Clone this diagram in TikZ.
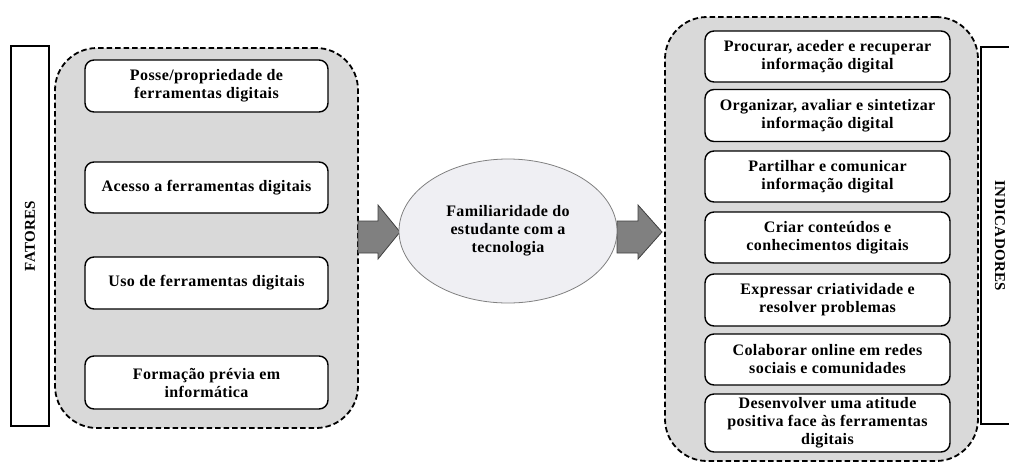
\documentclass[tikz,border=0pt]{standalone}
\usepackage{fontspec}
\setmainfont{Liberation Serif}[LetterSpace=2.5]
\usetikzlibrary{shapes.geometric}
\definecolor{grpfill}{HTML}{D9D9D9}
\definecolor{ellfill}{HTML}{EFEFF3}
\definecolor{arrfill}{HTML}{808080}
\begin{document}
\begin{tikzpicture}[x=1pt,y=-1pt,
  grp/.style={draw=black, line width=1.8pt, dash pattern=on 5.5pt off 3pt, fill=grpfill, rounded corners=42pt, inner sep=0pt},
  item/.style={draw=black, line width=1.4pt, fill=white, rounded corners=9pt, minimum width=#1, align=center, inner sep=0pt, font=\fontsize{16}{18}\selectfont\bfseries},
  lbl/.style={font=\fontsize{15}{17}\selectfont\bfseries},
  barrow/.style={draw=black!75, line width=0.8pt, fill=arrfill}]
\useasboundingbox (0,0) rectangle (1009,464);
% groups
\node[grp, minimum width=303pt, minimum height=380pt] (lg) at (206.5,238) {};
\node[grp, minimum width=313pt, minimum height=444pt] (rg) at (821.5,239) {};
% FATORES
\node[draw=black, line width=1.5pt, minimum width=38pt, minimum height=380pt, inner sep=0pt] (fat) at (30,236) {};
\node[lbl, rotate=90] (fatt) at (fat.center) {FATORES};
% INDICADORES
\coordinate (ib1) at (1012,47);
\coordinate (ib2) at (981,424);
\draw[line width=1.5pt] (ib1) -| (ib2) -- ++(31,0);
\node[lbl, rotate=-90] (ind) at (1000,236) {INDICADORES};
% left items
\node[item=243pt, minimum height=52pt] (l1) at (206.5,86) {Posse/propriedade de\\ferramentas digitais};
\node[item=243pt, minimum height=51pt] (l2) at (206.5,187.5) {Acesso a ferramentas digitais};
\node[item=243pt, minimum height=52pt] (l3) at (206.5,283) {Uso de ferramentas digitais};
\node[item=243pt, minimum height=53pt] (l4) at (206.5,382.5) {Formação prévia em\\informática};
% right items
\node[item=245pt, minimum height=51pt] (r1) at (827.5,56.5) {Procurar, aceder e recuperar\\informação digital};
\node[item=245pt, minimum height=52pt] (r2) at (827.5,115.5) {Organizar, avaliar e sintetizar\\informação digital};
\node[item=245pt, minimum height=51pt] (r3) at (827.5,176.5) {Partilhar e comunicar\\informação digital};
\node[item=245pt, minimum height=51pt] (r4) at (827.5,237.5) {Criar conteúdos e\\conhecimentos digitais};
\node[item=245pt, minimum height=52pt] (r5) at (827.5,300) {Expressar criatividade e\\resolver problemas};
\node[item=245pt, minimum height=51pt] (r6) at (827.5,359.5) {Colaborar online em redes\\sociais e comunidades};
\node[item=245pt, minimum height=58pt] (r7) at (827.5,423) {Desenvolver uma atitude\\positiva face às ferramentas\\digitais};
% arrows
\draw[barrow] (358,221) -- (378,221) -- (378,205) -- (400,232) -- (378,259) -- (378,253) -- (358,253) -- cycle;
\draw[barrow] (617,221) -- (638,221) -- (638,205) -- (662,232) -- (638,259) -- (638,253) -- (617,253) -- cycle;
% ellipse
\node[ellipse, draw=black!50, line width=0.8pt, fill=ellfill, minimum width=218pt, minimum height=144pt, inner sep=0pt, align=center, font=\fontsize{16}{18}\selectfont\bfseries] (fam) at (508,231) {Familiaridade do\\estudante com a\\tecnologia};
\end{tikzpicture}
\end{document}
